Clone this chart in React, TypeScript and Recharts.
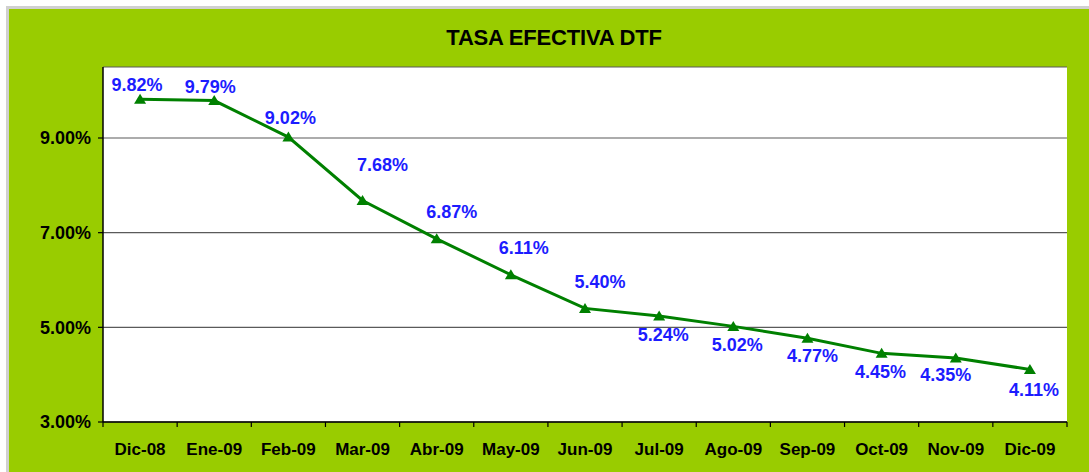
import { CartesianGrid, LabelList, Line, LineChart, XAxis, YAxis } from 'recharts';

const months = ['Dic-08', 'Ene-09', 'Feb-09', 'Mar-09', 'Abr-09', 'May-09', 'Jun-09', 'Jul-09', 'Ago-09', 'Sep-09', 'Oct-09', 'Nov-09', 'Dic-09'];
const rates = [9.82, 9.79, 9.02, 7.68, 6.87, 6.11, 5.4, 5.24, 5.02, 4.77, 4.45, 4.35, 4.11];
const yTicks = [3, 5, 7, 9];
// label nudges (dx, dy) relative to each point, as placed in the original sheet
const labelOffsets: Array<[number, number]> = [
  [-3, -14], [-4, -14], [2, -19], [20, -35], [15, -27], [13, -27], [15, -26],
  [4, 19], [4, 19], [5, 18], [-1, 19], [-10, 17], [4, 21],
];

const FONT = 'Arial, "Liberation Sans", sans-serif';
const GREEN_BG = '#99cc00';
const LINE_GREEN = '#008000';
const LABEL_BLUE = '#1c1cff';

const data = months.map((month, idx) => ({ idx, month, rate: rates[idx] }));
// boundaries (-0.5, 0.5, ...) get tick marks, integer positions get the month label
const xTicks: number[] = [];
for (let i = 0; i <= months.length; i++) {
  xTicks.push(i - 0.5);
  if (i < months.length) xTicks.push(i);
}

function XTick(props: any) {
  const { x, y, payload } = props;
  const value = Number(payload.value);
  if (!Number.isInteger(value)) {
    return <line x1={x} x2={x} y1={y} y2={y + 5} stroke="#000" strokeWidth={1.2} />;
  }
  return (
    <text x={x} y={y + 33} textAnchor="middle" fill="#000" fontSize={17} fontWeight={700} fontFamily={FONT}>
      {months[value]}
    </text>
  );
}

function TriangleDot(props: any) {
  const { cx, cy, index } = props;
  if (cx == null || cy == null) return null;
  return (
    <polygon
      key={`dot-${index}`}
      points={`${cx},${cy - 5.5} ${cx - 6},${cy + 4.5} ${cx + 6},${cy + 4.5}`}
      fill={LINE_GREEN}
    />
  );
}

function RateLabel(props: any) {
  const { x, y, value, index } = props;
  const [dx, dy] = labelOffsets[index] ?? [0, -14];
  return (
    <text
      x={x + dx}
      y={y + dy}
      textAnchor="middle"
      dominantBaseline="central"
      fill={LABEL_BLUE}
      fontSize={18}
      fontWeight={700}
      fontFamily={FONT}
    >
      {`${Number(value).toFixed(2)}%`}
    </text>
  );
}

export default function App() {
  return (
    <div
      style={{
        position: 'absolute',
        left: 6,
        top: 6,
        width: 1080,
        height: 463,
        background: GREEN_BG,
        borderTop: '3px solid #d0d0d0',
        borderLeft: '3px solid #d0d0d0',
        fontFamily: FONT,
      }}
    >
      <div
        style={{
          position: 'absolute',
          top: 16,
          left: 0,
          width: 1090,
          textAlign: 'center',
          fontSize: 22,
          fontWeight: 700,
          letterSpacing: -0.2,
          color: '#000',
        }}
      >
        TASA EFECTIVA DTF
      </div>
      <LineChart width={1080} height={463} data={data} margin={{ top: 58, right: 22, bottom: 0, left: 0 }}>
        <CartesianGrid vertical={false} stroke="#5a5a5a" strokeWidth={1.2} fill="#ffffff" />
        <XAxis
          xAxisId="top"
          orientation="top"
          type="number"
          dataKey="idx"
          domain={[-0.5, months.length - 0.5]}
          height={0}
          tick={false}
          tickLine={false}
          axisLine={{ stroke: '#c4c4c4', strokeWidth: 2 }}
        />
        <YAxis
          yAxisId="right"
          orientation="right"
          domain={[3, 10.5]}
          width={0}
          tick={false}
          tickLine={false}
          axisLine={{ stroke: '#c4c4c4', strokeWidth: 2 }}
        />
        <XAxis
          type="number"
          dataKey="idx"
          domain={[-0.5, months.length - 0.5]}
          ticks={xTicks}
          interval={0}
          height={50}
          tickSize={0}
          tickMargin={0}
          tickLine={false}
          axisLine={{ stroke: '#000', strokeWidth: 1.5 }}
          tick={<XTick />}
        />
        <YAxis
          domain={[3, 10.5]}
          ticks={yTicks}
          interval={0}
          width={94}
          tickSize={5}
          tickMargin={7}
          tickLine={{ stroke: '#000', strokeWidth: 1.2 }}
          axisLine={{ stroke: '#000', strokeWidth: 1.5 }}
          tick={{ fill: '#000', fontSize: 18, fontWeight: 700, fontFamily: FONT }}
          tickFormatter={(v: number) => `${v.toFixed(2)}%`}
          allowDataOverflow
        />
        <Line
          type="linear"
          dataKey="rate"
          stroke={LINE_GREEN}
          strokeWidth={3}
          dot={<TriangleDot />}
          activeDot={false}
          isAnimationActive={false}
        >
          <LabelList dataKey="rate" content={<RateLabel />} />
        </Line>
      </LineChart>
    </div>
  );
}
